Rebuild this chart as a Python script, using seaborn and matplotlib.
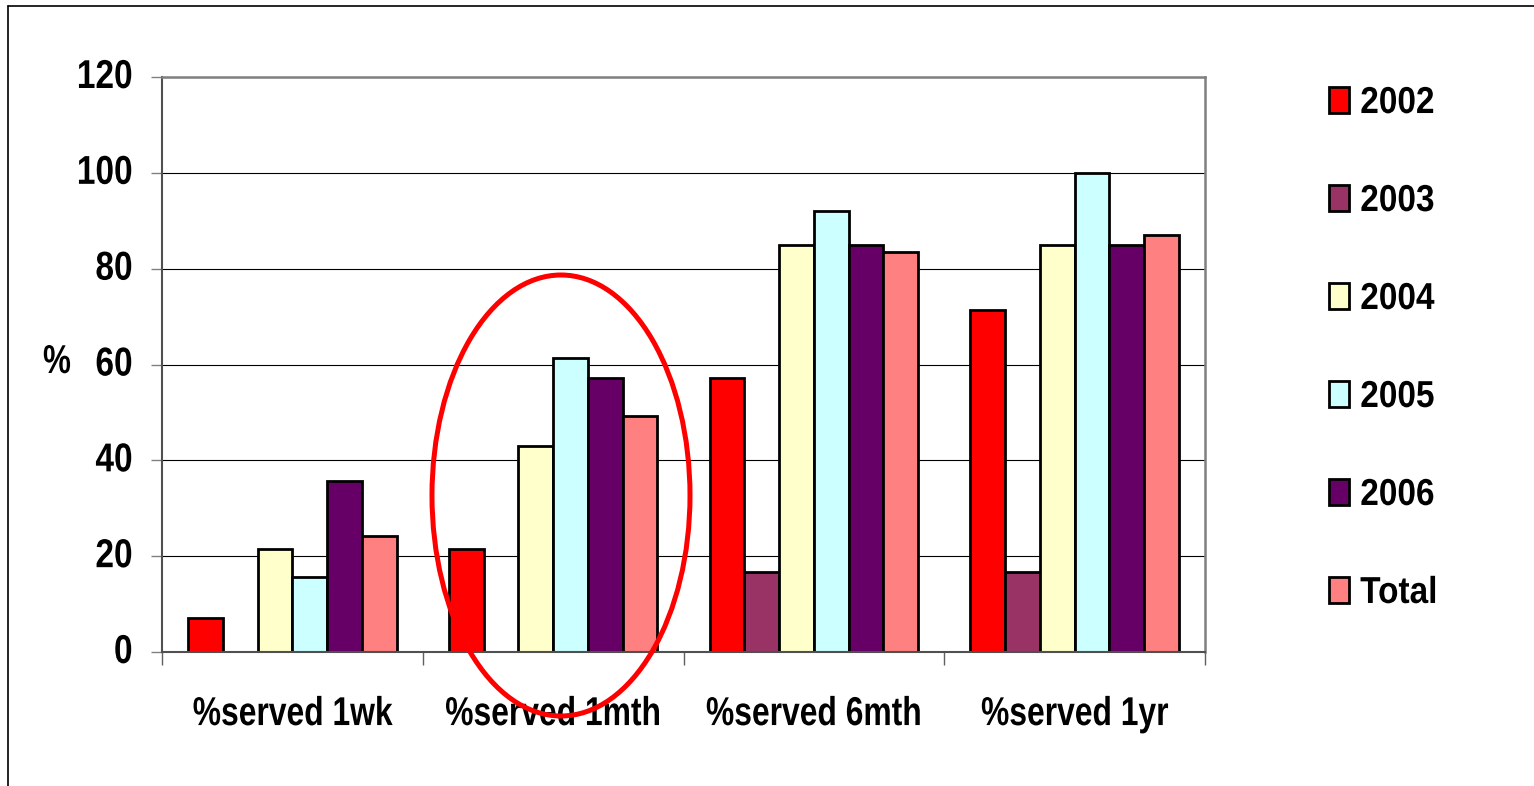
import numpy as np
import pandas as pd
import matplotlib
matplotlib.use("Agg")
import matplotlib.pyplot as plt
import seaborn as sns
from matplotlib.patches import Ellipse, Patch
from matplotlib.lines import Line2D
from matplotlib.patheffects import AbstractPathEffect
from matplotlib.transforms import Affine2D

# ---- data ----
categories = ["%served 1wk", "%served 1mth", "%served 6mth", "%served 1yr"]
series = ["2002", "2003", "2004", "2005", "2006", "Total"]
v2002 = [7.1, 21.4, 57.1, 71.4]
v2003 = [np.nan, np.nan, 16.7, 16.7]
v2004 = [21.4, 42.9, 85.0, 85.0]
v2005 = [15.7, 61.4, 92.1, 100.0]
v2006 = [35.7, 57.1, 85.0, 85.0]
vtotal = [24.2, 49.2, 83.5, 87.0]
yticks = [0, 20, 40, 60, 80, 100, 120]
colors = ["#FF0000", "#993366", "#FFFFCC", "#CCFFFF", "#660066", "#FF8080"]

values = [v2002, v2003, v2004, v2005, v2006, vtotal]
rows = []
for s, vals in zip(series, values):
    for c, v in zip(categories, vals):
        rows.append({"cat": c, "series": s, "val": v})
df = pd.DataFrame(rows)


class Squeeze(AbstractPathEffect):
    """Horizontally condense text glyphs (narrow Arial look)."""
    def __init__(self, sx, anchor="center"):
        super().__init__()
        self.sx = sx
        self.anchor = anchor

    def draw_path(self, renderer, gc, tpath, affine, rgbFace=None):
        ext = tpath.get_extents()
        cx = {"left": ext.x0, "center": (ext.x0 + ext.x1) / 2,
              "right": ext.x1}[self.anchor]
        t = Affine2D().translate(-cx, 0).scale(self.sx, 1).translate(cx, 0) + affine
        renderer.draw_path(gc, tpath, t, rgbFace)


sns.set_style("white")
FONT = ["Liberation Sans", "DejaVu Sans"]
plt.rcParams["font.family"] = FONT
plt.rcParams["font.weight"] = "bold"
plt.rcParams["text.color"] = "black"
plt.rcParams["xtick.color"] = "black"
plt.rcParams["ytick.color"] = "black"

W, H = 1534, 786
fig = plt.figure(figsize=(W / 100, H / 100), dpi=100)
ax = fig.add_axes([162 / W, 1 - 652 / H, (1205 - 162) / W, (652 - 77) / H])

sns.barplot(data=df, x="cat", y="val", hue="series", order=categories,
            hue_order=series, palette=dict(zip(series, colors)),
            edgecolor="black", linewidth=2.0, width=0.8, errorbar=None,
            legend=False, ax=ax, saturation=1)

ax.set_xlim(-0.5, 3.5)
ax.set_ylim(0, 120)
ax.set_xlabel("")
ax.set_ylabel("")

ax.set_yticks(yticks)
ax.set_yticklabels([str(t) for t in yticks], fontsize=29, fontweight="bold",
                   color="black", va="center")
ax.tick_params(axis="y", length=8, width=1, color="#808080", pad=13, left=True)
for t in ax.get_yticklabels():
    t.set_path_effects([Squeeze(0.83, "right")])

ax.set_xticks(range(len(categories)))
ax.set_xticklabels(categories, fontsize=29, fontweight="bold", color="black")
ax.set_xticks([-0.5, 0.5, 1.5, 2.5, 3.5], minor=True)
ax.tick_params(axis="x", which="major", length=0, pad=31)
ax.tick_params(axis="x", which="minor", length=9.5, width=1, color="#606060", bottom=True)
for t in ax.get_xticklabels():
    t.set_path_effects([Squeeze(0.79, "center")])

ax.yaxis.grid(True, color="black", linewidth=0.8)
ax.xaxis.grid(False)
ax.set_axisbelow(True)

for side in ["top", "right"]:
    ax.spines[side].set_visible(True)
    ax.spines[side].set_color("#808080")
    ax.spines[side].set_linewidth(1.8)
for side in ["left", "bottom"]:
    ax.spines[side].set_color("#505050")
    ax.spines[side].set_linewidth(1.5)

pct = fig.text(57 / W, 1 - 362 / H, "%", ha="center", va="center",
               fontsize=29, fontweight="bold", color="black")
pct.set_path_effects([Squeeze(0.78, "center")])

handles = [Patch(facecolor=c, edgecolor="black", linewidth=2.0) for c in colors]
leg = fig.legend(handles, series, loc="center left",
                 bbox_to_anchor=(1329 / W, 1 - 348 / H), frameon=False,
                 prop={"family": FONT, "weight": "bold", "size": 27},
                 handlelength=0.53, handleheight=0.68, handletextpad=0.3,
                 labelspacing=1.653, borderpad=0, borderaxespad=0)
for t in leg.get_texts():
    t.set_color("black")
    t.set_path_effects([Squeeze(0.89, "left")])

fig.add_artist(Ellipse((561 / W, 1 - 495.5 / H), 258 / W, 441 / H,
                       transform=fig.transFigure, fill=False,
                       edgecolor="#FF0000", linewidth=3.6, zorder=10))

fig.add_artist(Line2D([8 / W, 8 / W], [0, 1 - 6 / H], transform=fig.transFigure,
                      color="black", linewidth=1.2))
fig.add_artist(Line2D([8 / W, 1], [1 - 6 / H, 1 - 6 / H], transform=fig.transFigure,
                      color="black", linewidth=1.2))

fig.savefig("out.png", dpi=100)
